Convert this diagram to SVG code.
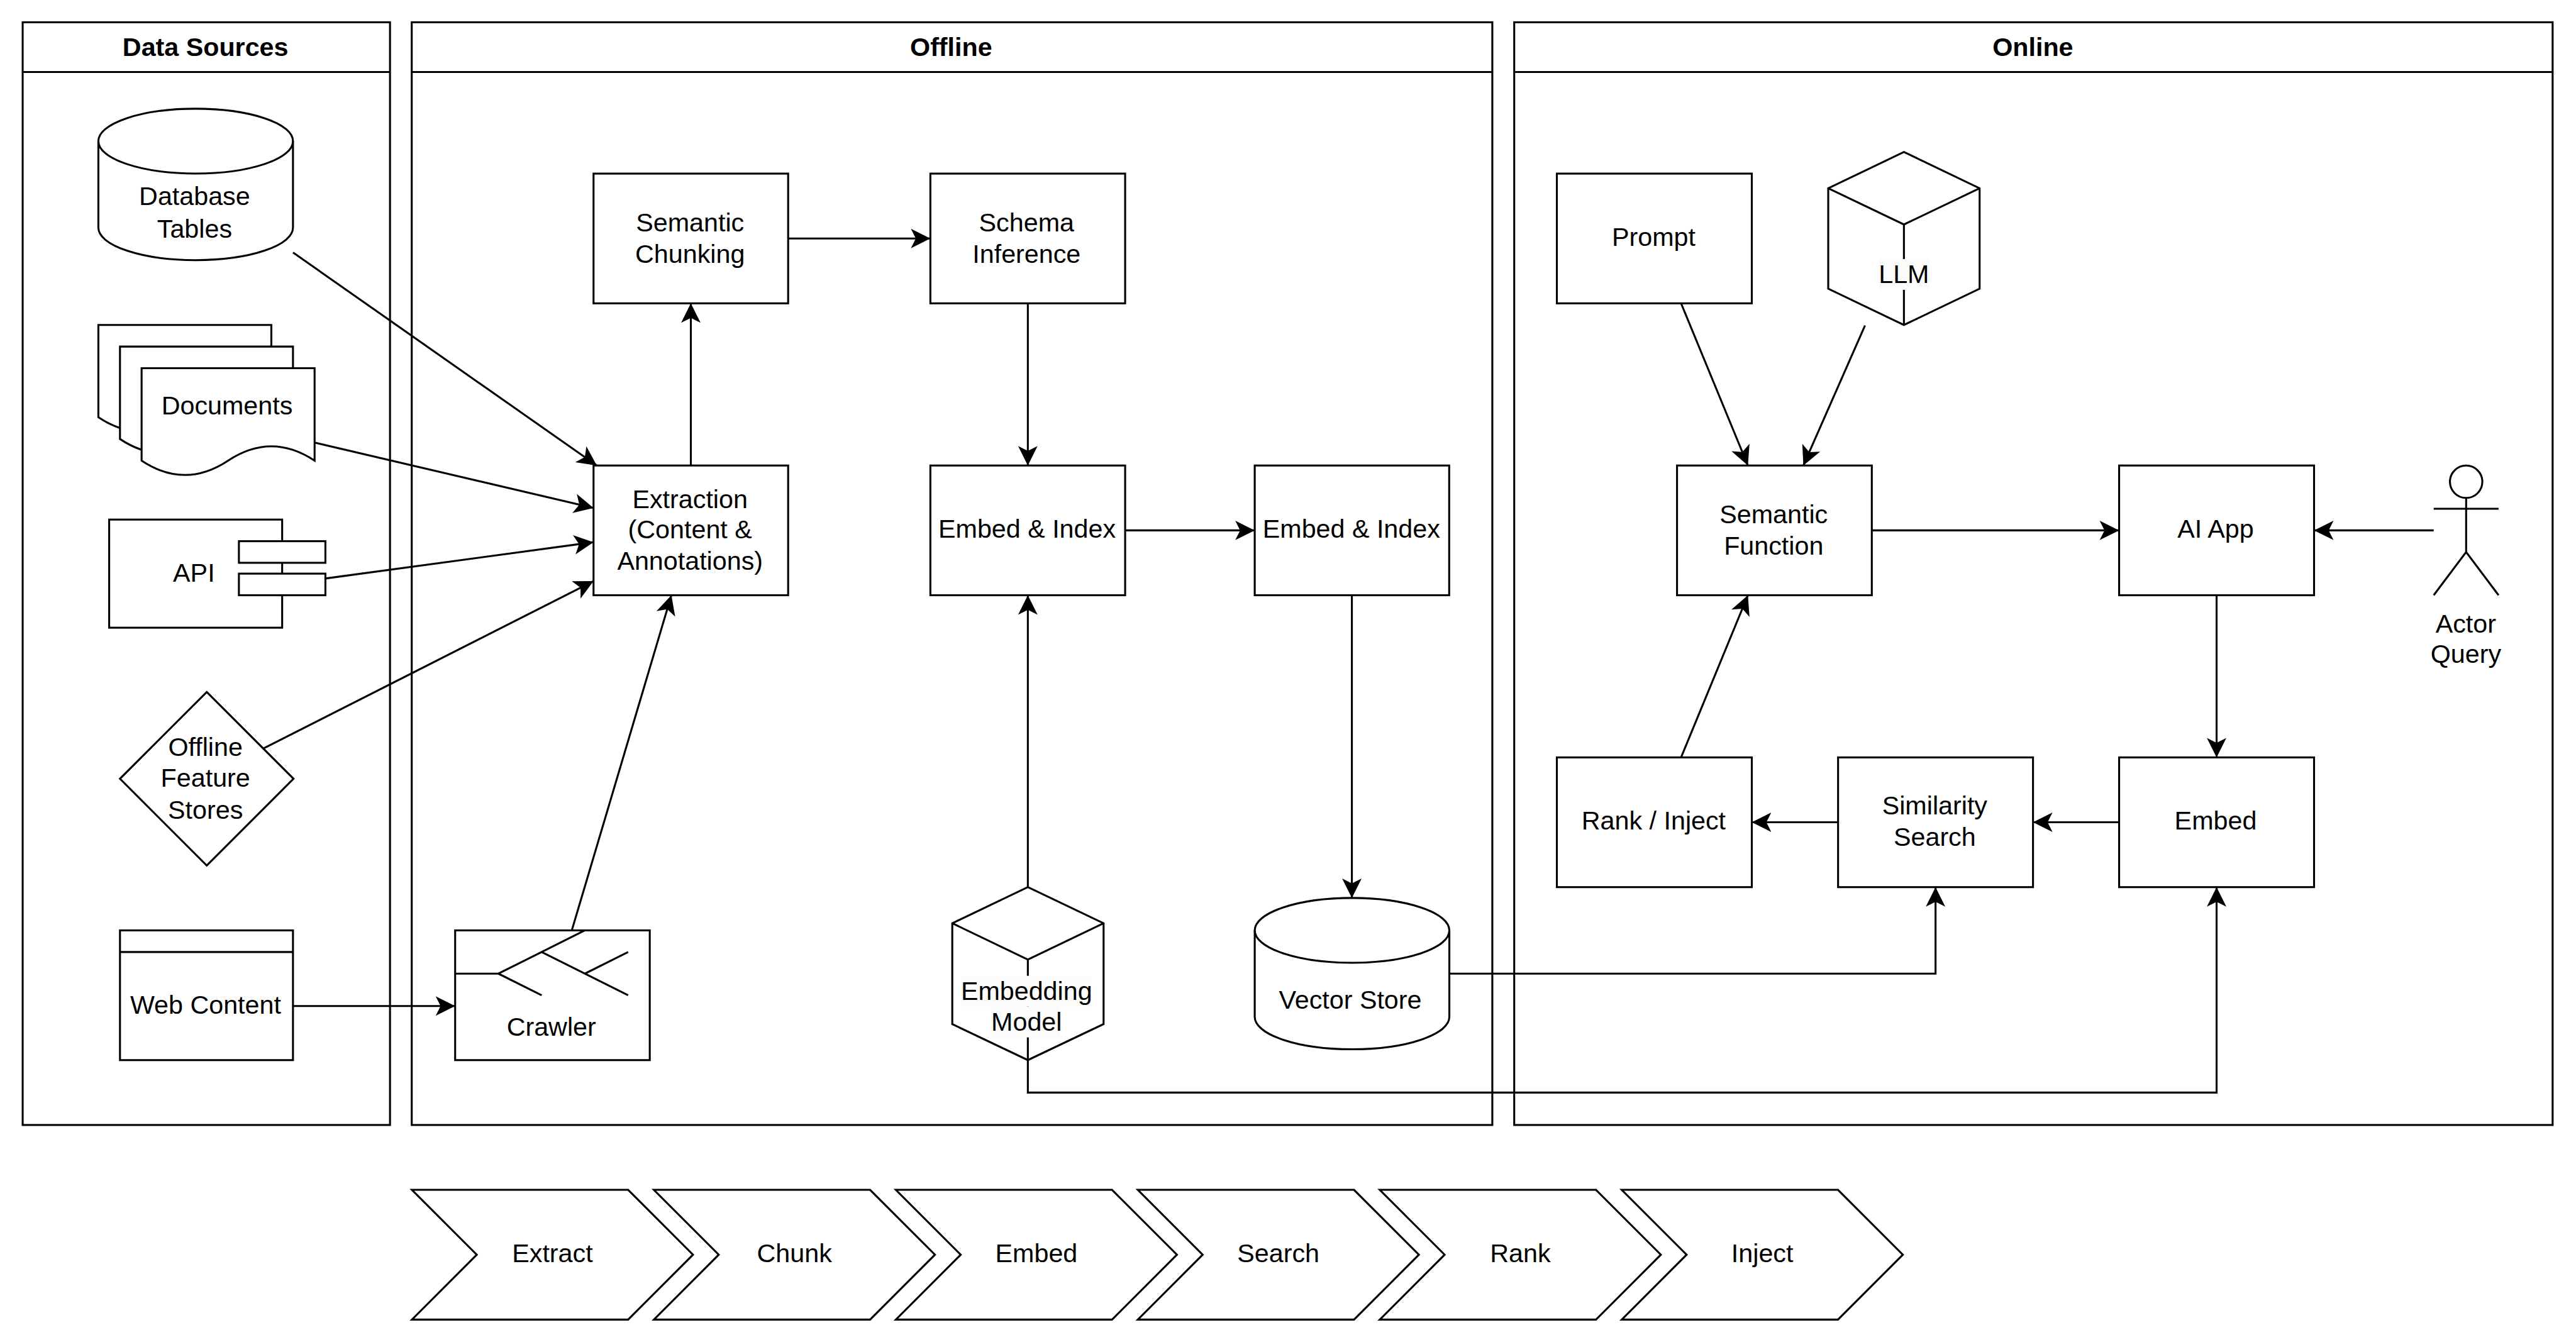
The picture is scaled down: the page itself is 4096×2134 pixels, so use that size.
<svg xmlns="http://www.w3.org/2000/svg" width="4096" height="2134" viewBox="0 0 4096 2134">
<defs>
<style>
.s{fill:#fff;stroke:#000;stroke-width:1.2;stroke-linejoin:miter}
.l{fill:none;stroke:#000;stroke-width:1.2}
.c{fill:none;stroke:#000;stroke-width:1.2;marker-end:url(#a)}
text{font-family:"Liberation Sans",Arial,sans-serif;font-size:16px;text-anchor:middle;fill:#000}
.b{font-weight:bold}
.g{fill:#fbfbfb;stroke:none}
</style>
<marker id="a" markerUnits="userSpaceOnUse" markerWidth="15" markerHeight="15" viewBox="-13 -7.5 15 15" refX="0" refY="0" orient="auto"><path d="M0 0L-12-6L-9 0L-12 6Z" fill="#000"/></marker>
</defs>
<rect width="4096" height="2134" fill="#fff"/>
<g transform="translate(36.06 35.4) scale(2.5787)">
<g id="lane-data-sources"><rect class="s" x="0" y="0" width="226.5" height="680"/><path class="l" d="M0 30.67H226.5"/><text class="b" x="112.7" y="20.8">Data Sources</text></g>
<g id="lane-offline"><rect class="s" x="239.9" y="0" width="666.3" height="680"/><path class="l" d="M239.9 30.67H906.2"/><text class="b" x="572.5" y="20.8">Offline</text></g>
<g id="lane-online"><rect class="s" x="919.7" y="0" width="640.3" height="680"/><path class="l" d="M919.7 30.67H1560"/><text class="b" x="1239.5" y="20.8">Online</text></g>

<g id="connectors">
<path class="c" d="M166.7 142L354 273.3"/>
<path class="c" d="M180.4 259.3L352 299.5"/>
<path class="c" d="M186.7 343L352 320.6"/>
<path class="c" d="M148.5 447.8L352 344.6"/>
<path class="c" d="M166.67 606.67H266.67"/>
<path class="c" d="M338.6 560L400 353.33"/>
<path class="c" d="M412 273.33V173.33"/>
<path class="c" d="M472 133.33H559.7"/>
<path class="c" d="M619.8 173.33V273.33"/>
<path class="c" d="M679.8 313.33H759.7"/>
<path class="c" d="M819.6 353.33V540"/>
<path class="c" d="M619.8 533.33V353.33"/>
<path class="c" d="M879.7 586.67H1179.5V533.33"/>
<path class="c" d="M619.8 640V660H1352.8V533.33"/>
<path class="c" d="M1022.6 173.33L1063.8 273.33"/>
<path class="c" d="M1136 187L1098 273.33"/>
<path class="c" d="M1022.6 453.33L1063.8 353.33"/>
<path class="c" d="M1140.2 313.33H1292.7"/>
<path class="c" d="M1486.67 313.33H1412.9"/>
<path class="c" d="M1352.8 353.33V453.33"/>
<path class="c" d="M1292.7 493.33H1239.6"/>
<path class="c" d="M1119.4 493.33H1066.2"/>
</g>

<g id="database-tables"><path class="s" d="M46.67 73.3A60 20 0 0 1 166.67 73.3V126.7A60 20 0 0 1 46.67 126.7Z"/><path class="l" d="M46.67 73.3A60 20 0 0 0 166.67 73.3"/><text x="106" y="112.7">Database</text><text x="106" y="132.7">Tables</text></g>
<g id="documents">
<path class="s" d="M46.67 186.67H153.33V243.6Q126.67 226 100 243.6Q73.33 261.3 46.67 243.6Z"/>
<path class="s" d="M60 200H166.67V257Q140 239.3 113.33 257Q86.67 274.7 60 257Z"/>
<path class="s" d="M73.33 213.33H180V270.3Q153.33 252.7 126.67 270.3Q100 288 73.33 270.3Z"/>
<text x="126" y="242">Documents</text></g>
<g id="api"><rect class="s" x="53.33" y="306.67" width="106.67" height="66.67"/><rect class="s" x="133.33" y="320" width="53.33" height="13.33"/><rect class="s" x="133.33" y="340" width="53.33" height="13.33"/><text x="105.6" y="344.8">API</text></g>
<g id="offline-feature-stores"><path class="s" d="M113.5 413L167 466.5L113.5 520L60 466.5Z"/><text x="112.7" y="452.3">Offline</text><text x="112.7" y="471.5">Feature</text><text x="112.7" y="491">Stores</text></g>
<g id="web-content"><rect class="s" x="60" y="560" width="106.67" height="80"/><path class="l" d="M60 573.33H166.67"/><text x="112.8" y="611.3">Web Content</text></g>
<g id="crawler"><rect class="s" x="266.67" y="560" width="120" height="80"/><path class="l" d="M266.67 586.67H293.33L346.67 560M320 573.33L373.33 600M346.67 586.67L373.33 573.33M293.33 586.67L320 600"/><text x="326" y="624.8">Crawler</text></g>
<g id="extraction"><rect class="s" x="352" y="273.33" width="120" height="80"/><text x="411.5" y="299.5">Extraction</text><text x="411.5" y="318.2">(Content &amp;</text><text x="411.5" y="337.8">Annotations)</text></g>
<g id="semantic-chunking"><rect class="s" x="352" y="93.33" width="120" height="80"/><text x="411.5" y="128.8">Semantic</text><text x="411.5" y="148.3">Chunking</text></g>
<g id="schema-inference"><rect class="s" x="559.7" y="93.33" width="120.1" height="80"/><text x="619" y="128.8">Schema</text><text x="619" y="148.3">Inference</text></g>
<g id="embed-index-1"><rect class="s" x="559.7" y="273.33" width="120.1" height="80"/><text x="619.3" y="318">Embed &amp; Index</text></g>
<g id="embed-index-2"><rect class="s" x="759.7" y="273.33" width="119.9" height="80"/><text x="819.3" y="318">Embed &amp; Index</text></g>
<g id="vector-store"><path class="s" d="M759.7 560A60 20 0 0 1 879.7 560V613.33A60 20 0 0 1 759.7 613.33Z"/><path class="l" d="M759.7 560A60 20 0 0 0 879.7 560"/><text x="818.6" y="608.4">Vector Store</text></g>
<g id="embedding-model"><path class="s" d="M619.8 533.33L666.5 555.6V617.8L619.8 640L573.2 617.8V555.6Z"/><path class="l" d="M573.2 555.6L619.8 578L666.5 555.6M619.8 578V640"/><rect class="g" x="579" y="588" width="80" height="19"/><rect class="g" x="597.5" y="607" width="42.5" height="19"/><text x="619" y="603">Embedding</text><text x="619" y="621.7">Model</text></g>
<g id="prompt"><rect class="s" x="946" y="93.33" width="120.2" height="80"/><text x="1005.7" y="138">Prompt</text></g>
<g id="llm"><path class="s" d="M1160 80L1206.67 102.4V164.3L1160 186.67L1113.33 164.3V102.4Z"/><path class="l" d="M1113.33 102.4L1160 124.7L1206.67 102.4M1160 124.7V186.67"/><rect class="g" x="1144.6" y="146" width="31.4" height="19"/><text x="1160" y="160.8">LLM</text></g>
<g id="semantic-function"><rect class="s" x="1020.1" y="273.33" width="120.1" height="80"/><text x="1079.7" y="308.8">Semantic</text><text x="1079.7" y="328.3">Function</text></g>
<g id="ai-app"><rect class="s" x="1292.7" y="273.33" width="120.2" height="80"/><text x="1352.2" y="318">AI App</text></g>
<g id="actor-query"><ellipse class="s" cx="1506.67" cy="283.33" rx="10" ry="10"/><path class="l" d="M1506.67 293.33V326.67M1486.67 300H1526.67M1486.67 353.33L1506.67 326.67L1526.67 353.33"/><text x="1506.5" y="376.5">Actor</text><text x="1506.5" y="395">Query</text></g>
<g id="rank-inject"><rect class="s" x="946" y="453.33" width="120.2" height="80"/><text x="1005.7" y="497.6">Rank / Inject</text></g>
<g id="similarity-search"><rect class="s" x="1119.4" y="453.33" width="120.2" height="80"/><text x="1179" y="488.4">Similarity</text><text x="1179" y="508">Search</text></g>
<g id="embed"><rect class="s" x="1292.7" y="453.33" width="120.2" height="80"/><text x="1352.2" y="497.6">Embed</text></g>

<g id="step-extract"><path class="s" d="M240 720H373.33L413.33 760L373.33 800H240L280 760Z"/><text x="326.67" y="764.6">Extract</text></g>
<g id="step-chunk"><path class="s" d="M389.2 720H522.53L562.53 760L522.53 800H389.2L429.2 760Z"/><text x="475.87" y="764.6">Chunk</text></g>
<g id="step-embed"><path class="s" d="M538.4 720H671.73L711.73 760L671.73 800H538.4L578.4 760Z"/><text x="625.07" y="764.6">Embed</text></g>
<g id="step-search"><path class="s" d="M687.6 720H820.93L860.93 760L820.93 800H687.6L727.6 760Z"/><text x="774.27" y="764.6">Search</text></g>
<g id="step-rank"><path class="s" d="M836.8 720H970.13L1010.13 760L970.13 800H836.8L876.8 760Z"/><text x="923.47" y="764.6">Rank</text></g>
<g id="step-inject"><path class="s" d="M986 720H1119.33L1159.33 760L1119.33 800H986L1026 760Z"/><text x="1072.67" y="764.6">Inject</text></g>
</g>
</svg>
